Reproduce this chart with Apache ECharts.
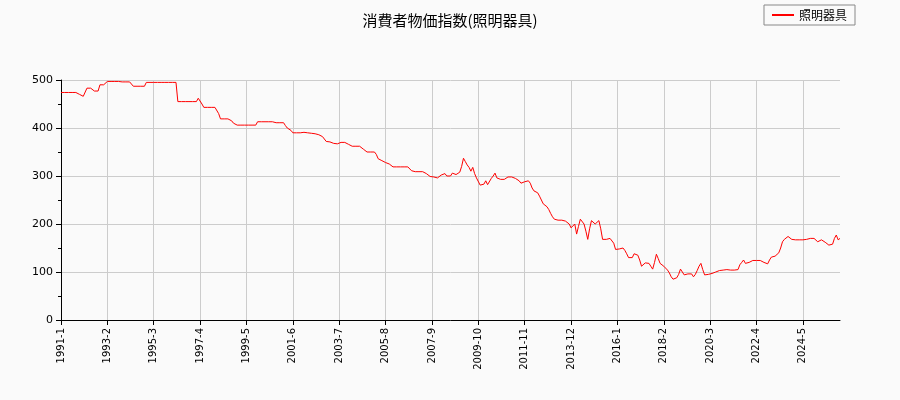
<!DOCTYPE html>
<html>
<head>
<meta charset="utf-8">
<script src="https://cdn.jsdelivr.net/npm/echarts@6/dist/echarts.min.js"></script>
<style>html,body{margin:0;background:#fafafa;}#main{width:900px;height:400px;}</style>
</head>
<body>
<div id="main"></div>
<script>
// 月次の指数値 1991-1 から
var values = [
	474,474,474,474,474,474,474,474,474,474,470,466,
	466,470,483,483,483,483,477,477,477,490,490,490,
	490,497,497,497,497,497,497,497,496,496,496,496,
	496,496,496,487,487,487,487,487,487,487,495,495,
	495,495,495,495,495,495,495,495,495,495,495,495,
	495,495,495,455,455,455,455,455,455,455,455,455,
	455,455,462,458,450,443,443,443,443,443,443,443,
	443,430,419,419,419,419,419,419,415,410,407,406,
	406,406,406,406,406,406,406,406,406,406,413,413,
	413,413,413,413,413,413,413,413,411,411,411,411,
	411,405,400,398,395,390,390,390,390,390,390,391,
	389,390,389,389,388,388,387,386,384,382,380,372,
	372,371,369,368,367,367,368,370,370,370,369,366,
	362,362,362,362,362,362,360,356,352,350,350,350,
	350,350,345,336,332,332,330,328,325,325,322,319,
	319,319,319,319,319,319,319,319,315,311,309,309,
	309,309,309,309,309,305,301,299,298,298,298,296,
	300,302,298,305,300,303,300,306,302,303,300,308,
	320,337,330,323,318,310,318,305,296,300,281,285,
	283,290,282,283,295,300,306,296,293,293,293,293,
	296,298,298,298,298,295,292,290,285,285,288,290,
	290,285,275,269,269,265,258,250,242,240,236,230,
	222,215,210,208,208,208,208,204,206,208,200,192,
	190,200,179,195,210,214,200,185,168,190,207,204,
	200,204,207,190,168,170,168,167,170,172,160,147,
	148,148,150,150,145,138,130,126,130,138,141,135,
	125,112,115,119,119,118,112,106,120,137,128,118,
	118,112,108,104,98,90,85,82,88,95,106,100,
	94,94,96,96,96,90,95,103,112,118,105,94,
	94,95,96,97,97,100,102,103,103,104,106,105,
	103,104,104,104,104,105,115,120,125,118,115,120,
	122,124,124,124,124,124,122,120,117,117,125,131,
	131,133,135,140,150,163,168,172,174,170,168,167,
	167,167,167,167,167,168,168,170,170,170,170,170,
	163,165,167,167,162,160,156,153,158,170,177,167,
	170
],
startYear = 1991,
seriesName = '照明器具',
titleText = '消費者物価指数(照明器具)',
months = [];

for (var i = 0; i < values.length; i++) {
	months.push((startYear + Math.floor(i / 12)) + '-' + (i % 12 + 1));
}

var chart = echarts.init(document.getElementById('main'));
var axisColor = '#000', gridColor = '#ccc', font = '"Noto Sans CJK JP", sans-serif';
chart.setOption({
	backgroundColor: '#fafafa',
	animation: false,
	title: {
		text: titleText, left: 'center', top: 8,
		textStyle: { fontSize: 15, fontWeight: 'normal', color: '#000', fontFamily: font }
	},
	legend: {
		data: [seriesName], right: 45, top: 5,
		borderColor: '#888', borderWidth: 1, borderRadius: 0, padding: [4, 8],
		itemWidth: 22, itemHeight: 2, icon: 'rect',
		textStyle: { fontSize: 12, color: '#000', fontFamily: font }
	},
	grid: { left: 61, right: 60, top: 80, bottom: 80, containLabel: false },
	xAxis: {
		type: 'category', data: months, boundaryGap: false,
		axisLine: { lineStyle: { color: axisColor } },
		axisTick: { interval: 24, lineStyle: { color: axisColor } },
		axisLabel: { interval: 24, rotate: 90, fontSize: 10, color: '#000', fontFamily: 'DejaVu Sans' },
		splitLine: { show: true, interval: 24, lineStyle: { color: gridColor } }
	},
	yAxis: {
		type: 'value', min: 0, max: 500, interval: 100,
		axisLine: { show: true, lineStyle: { color: axisColor } },
		axisTick: { show: true, lineStyle: { color: axisColor } },
		minorTick: { show: true, splitNumber: 2, lineStyle: { color: axisColor } },
		axisLabel: { fontSize: 11, color: '#000', fontFamily: 'DejaVu Sans' },
		splitLine: { lineStyle: { color: gridColor } }
	},
	series: [{
		name: seriesName, type: 'line', data: values, showSymbol: false,
		lineStyle: { color: '#ff0000', width: 1 }, itemStyle: { color: '#ff0000' }
	}]
});
</script>
</body>
</html>
